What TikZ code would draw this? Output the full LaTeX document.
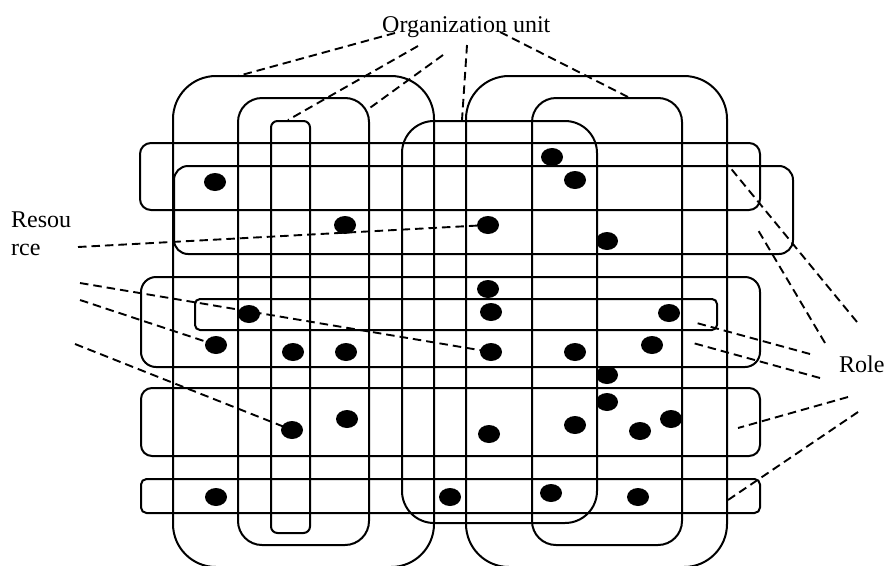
\documentclass[tikz,border=0pt]{standalone}
\usepackage{fontspec}
\setmainfont{Liberation Serif}
\usetikzlibrary{shapes.geometric}
\begin{document}
\begin{tikzpicture}[x=1pt,y=-1pt,
  box/.style={draw, line width=2pt},
  link/.style={draw, line width=1.9pt, dash pattern=on 8.5pt off 5pt},
  dot/.style={ellipse, fill, minimum width=22pt, minimum height=18pt, inner sep=0pt},
  lbl/.style={font=\fontsize{24}{28}\selectfont, inner sep=0pt, anchor=base west}]
\useasboundingbox (0,0) rectangle (885,565);
\clip (0,0) rectangle (885,565);

% organization units (vertical)
\draw[box, rounded corners=43pt] (173,76) rectangle (434,567);
\draw[box, rounded corners=43pt] (466,76) rectangle (727,567);
\draw[box, rounded corners=24pt] (238,98) rectangle (369,545);
\draw[box, rounded corners=24pt] (532,98) rectangle (682,545);
\draw[box, rounded corners=6.5pt] (271,121) rectangle (310,533);
\draw[box, rounded corners=32pt] (402,121) rectangle (597,523);

% roles (horizontal)
\draw[box, rounded corners=11pt] (140,143) rectangle (760,210);
\draw[box, rounded corners=14pt] (174,166) rectangle (793,254);
\draw[box, rounded corners=15pt] (141,277) rectangle (760,367);
\draw[box, rounded corners=5pt] (195,299) rectangle (717,330);
\draw[box, rounded corners=11pt] (141,388) rectangle (760,456);
\draw[box, rounded corners=5.5pt] (141,479) rectangle (760,513);

% resource positions
\coordinate (d1) at (215,182);
\coordinate (d2) at (552,157);
\coordinate (d3) at (575,180);
\coordinate (d4) at (345,225);
\coordinate (d5) at (488,225);
\coordinate (d6) at (607,241);
\coordinate (d7) at (488,289);
\coordinate (d8) at (249,314);
\coordinate (d9) at (491,312);
\coordinate (d10) at (669,313);
\coordinate (d11) at (216,345);
\coordinate (d12) at (293,352);
\coordinate (d13) at (346,352);
\coordinate (d14) at (491,352);
\coordinate (d15) at (575,352);
\coordinate (d16) at (652,345);
\coordinate (d17) at (607,375);
\coordinate (d18) at (607,402);
\coordinate (d19) at (292,430);
\coordinate (d20) at (347,419);
\coordinate (d21) at (489,434);
\coordinate (d22) at (575,425);
\coordinate (d23) at (640,431);
\coordinate (d24) at (671,419);
\coordinate (d25) at (216,497);
\coordinate (d26) at (450,497);
\coordinate (d27) at (551,493);
\coordinate (d28) at (638,497);

% labels
\node[lbl] (org) at (382,32) {Organization unit};
\node[lbl, align=left] (res) at (11,255) {Resou\\rce};
\node[lbl] (role) at (839,372) {Role};

% leader ends
\coordinate (o1s) at (395,33);  \coordinate (o1e) at (238,76);
\coordinate (o2s) at (418,46);  \coordinate (o2e) at (288,120);
\coordinate (o3s) at (443,55);  \coordinate (o3e) at (367,110);
\coordinate (o4s) at (467,45);  \coordinate (o4e) at (462,120);
\coordinate (o5s) at (500,32);  \coordinate (o5e) at (630,98);
\coordinate (r1s) at (78,247);
\coordinate (r2s) at (80,283);
\coordinate (r3s) at (80,300);
\coordinate (r4s) at (75,344);
\coordinate (l1s) at (857,322); \coordinate (l1e) at (728,165);
\coordinate (l2s) at (825,343); \coordinate (l2e) at (758,230);
\coordinate (l3s) at (810,354); \coordinate (l3e) at (693,322);
\coordinate (l4s) at (820,378); \coordinate (l4e) at (693,343);
\coordinate (l5s) at (848,397); \coordinate (l5e) at (738,428);
\coordinate (l6s) at (858,412); \coordinate (l6e) at (728,500);

% leaders
\draw[link] (o1s) -- (o1e);
\draw[link] (o2s) -- (o2e);
\draw[link] (o3s) -- (o3e);
\draw[link] (o4s) -- (o4e);
\draw[link] (o5s) -- (o5e);
\draw[link] (r1s) -- (d5);
\draw[link] (r2s) -- (d14);
\draw[link] (r3s) -- (d11);
\draw[link] (r4s) -- (d19);
\draw[link] (l1s) -- (l1e);
\draw[link] (l2s) -- (l2e);
\draw[link] (l3s) -- (l3e);
\draw[link] (l4s) -- (l4e);
\draw[link] (l5s) -- (l5e);
\draw[link] (l6s) -- (l6e);

% resources
\foreach \i in {1,...,28} \node[dot] (n\i) at (d\i) {};
\end{tikzpicture}
\end{document}
